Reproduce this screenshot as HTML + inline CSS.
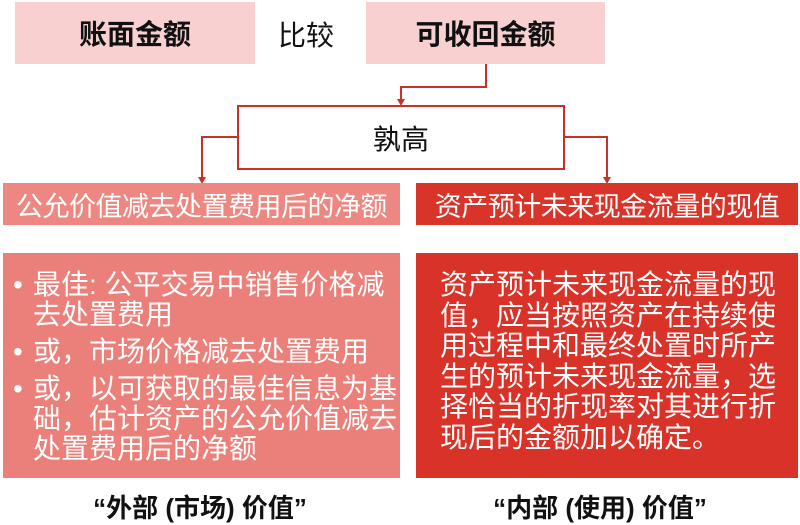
<!DOCTYPE html>
<html><head><meta charset="utf-8"><style>
body{margin:0;width:800px;height:525px;background:#fff;position:relative;overflow:hidden;font-family:"Liberation Sans","Noto Sans CJK SC",sans-serif}
.a{position:absolute;box-sizing:border-box}
.top{background:#f7d0cf;display:flex;align-items:center;justify-content:center;font-size:28px;font-weight:bold;color:#111}
.hd{color:#fff;font-size:27px;display:flex;align-items:center;justify-content:center;white-space:nowrap;letter-spacing:-0.5px}
.bx{color:#fff;font-size:28px;line-height:30.5px;white-space:nowrap}
.li{position:relative;margin-bottom:7px}
</style></head><body>
<div class="a top" style="left:15px;top:2px;width:240px;height:62px">账面金额</div>
<div class="a" style="left:278px;top:14px;font-size:28px;color:#111">比较</div>
<div class="a top" style="left:366px;top:2px;width:239px;height:62px">可收回金额</div>
<svg class="a" style="left:0;top:0" width="800" height="525">
<g stroke="#c9302a" stroke-width="2" fill="none">
<polyline points="486,64 486,87 401,87 401,100"/>
<polyline points="237,137 202,137 202,178"/>
<polyline points="565,137 607,137 607,178"/>
</g>
<g fill="#c9302a">
<polygon points="397,99 405,99 401,106"/>
<polygon points="198,177 206,177 202,184"/>
<polygon points="603,177 611,177 607,184"/>
</g>
</svg>
<div class="a" style="left:237px;top:105px;width:328px;height:65px;border:2.5px solid #c9302a;background:#fff;display:flex;align-items:center;justify-content:center;font-size:28px;color:#111">孰高</div>
<div class="a hd" style="left:3px;top:183px;width:397px;height:42px;background:#ec8782">公允价值减去处置费用后的净额</div>
<div class="a hd" style="left:416px;top:183px;width:382px;height:42px;background:#d9342a">资产预计未来现金流量的现值</div>
<div class="a bx" style="left:3px;top:253px;width:397px;height:225px;background:#eb7f79;padding:17px 0 0 30px;line-height:30px">
<div class="li"><span style="position:absolute;left:-20px">•</span>最佳: 公平交易中销售价格减<br>去处置费用</div>
<div class="li"><span style="position:absolute;left:-20px">•</span>或，市场价格减去处置费用</div>
<div class="li"><span style="position:absolute;left:-20px">•</span>或，以可获取的最佳信息为基<br>础，估计资产的公允价值减去<br>处置费用后的净额</div>
</div>
<div class="a bx" style="left:416px;top:253px;width:382px;height:225px;background:#d93228;padding:17px 0 0 24px">资产预计未来现金流量的现<br>值，应当按照资产在持续使<br>用过程中和最终处置时所产<br>生的预计未来现金流量，选<br>择恰当的折现率对其进行折<br>现后的金额加以确定。</div>
<div class="a" style="left:0;top:488px;width:400px;text-align:center;font-size:26px;font-weight:bold;color:#111">“外部 (市场) 价值”</div>
<div class="a" style="left:400px;top:488px;width:400px;text-align:center;font-size:26px;font-weight:bold;color:#111">“内部 (使用) 价值”</div>
</body></html>
